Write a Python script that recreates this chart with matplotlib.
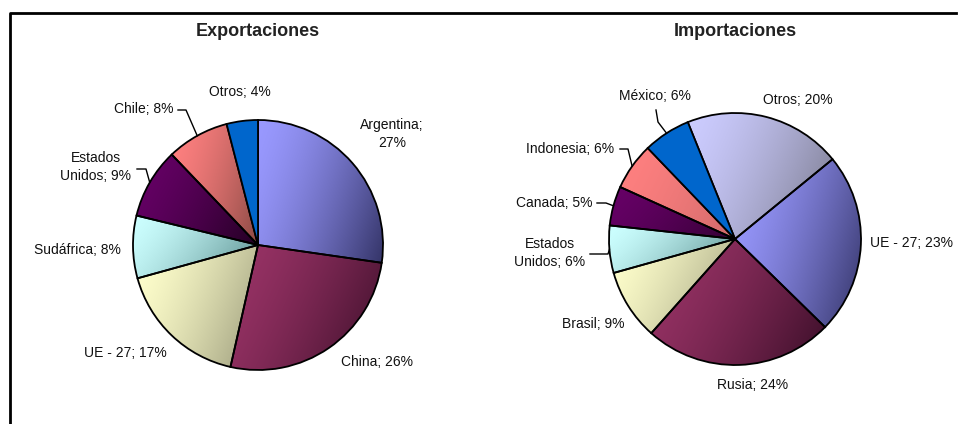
import numpy as np
import matplotlib.pyplot as plt
from matplotlib.colors import to_rgb

plt.rcParams["font.family"] = ["Liberation Sans", "DejaVu Sans"]

# Exportaciones (% del total)
exp_paises = ["Argentina", "China", "UE - 27", "Sudáfrica", "Estados\nUnidos", "Chile", "Otros"]
exp_pct = [27, 26, 17, 8, 9, 8, 4]

# Importaciones (% del total)
imp_paises = ["Otros", "UE - 27", "Rusia", "Brasil", "Estados\nUnidos", "Canada", "Indonesia", "México"]
imp_pct = [20, 23, 24, 9, 6, 5, 6, 6]

# colores degradados (claro, oscuro); None = color liso
exp_colores = [("#9999FF", "#333366"), ("#993366", "#3a0e28"), ("#FFFFCC", "#99997a"),
               ("#CCFFFF", "#558888"), ("#660066", "#220022"), ("#FF8080", "#8a4a44"),
               ("#0066CC", None)]
imp_colores = [("#CCCCFF", "#777788"), ("#9999FF", "#333366"), ("#993366", "#3a0e28"),
               ("#FFFFCC", "#99997a"), ("#CCFFFF", "#558888"), ("#660066", "#330033"),
               ("#FF8080", "#d06a6a"), ("#0066CC", None)]

H = 424

# posicion de etiquetas en pixeles (x, y desde arriba); guia = inicio y codo de la linea
exp_layout = [
    dict(xy=(392, 134), wrap=True),
    dict(xy=(377, 362)),
    dict(xy=(125, 353)),
    dict(xy=(77, 250)),
    dict(xy=(96, 167), guia=[(137, 169), (146, 169)]),
    dict(xy=(144, 109), guia=[(178, 110), (186, 110)]),
    dict(xy=(240, 92)),
]
imp_layout = [
    dict(xy=(798, 100)),
    dict(xy=(912, 243)),
    dict(xy=(753, 385)),
    dict(xy=(593, 324)),
    dict(xy=(550, 253), guia=[(590, 254), (608, 254)]),
    dict(xy=(554, 203), guia=[(597, 203), (606, 203)]),
    dict(xy=(570, 149), guia=[(620, 149), (628, 149)]),
    dict(xy=(655, 96), guia=[(656, 110), (658, 122)]),
]


def torta(ax, valores, paises, colores, layout, centro, radio, inicio, titulo):
    cx, cy = centro[0], H - centro[1]
    wedges, _ = ax.pie(valores, startangle=inicio, counterclock=False,
                       center=(cx, cy), radius=radio,
                       colors=[c[0] for c in colores],
                       wedgeprops=dict(edgecolor="black", linewidth=1.3))

    # degradado diagonal: claro arriba-izquierda, oscuro abajo-derecha
    n = 80
    U, V = np.meshgrid(np.linspace(0, 1, n), np.linspace(0, 1, n))
    t = (np.clip(0.72 * U + 0.28 * V, 0, 1) ** 1.5)[..., None]
    for w, (claro, oscuro) in zip(wedges, colores):
        w.set_zorder(3)
        if oscuro is None:
            continue
        verts = w.get_path().vertices
        x0, y0 = verts.min(0)
        x1, y1 = verts.max(0)
        img = np.array(to_rgb(claro)) * (1 - t) + np.array(to_rgb(oscuro)) * t
        im = ax.imshow(img, extent=(x0, x1, y0, y1), origin="upper",
                       interpolation="bilinear", zorder=2)
        im.set_clip_path(w)
        w.set_facecolor("none")

    for w, pais, v, lay in zip(wedges, paises, valores, layout):
        sep = ";\n" if lay.get("wrap") else "; "
        x, y = lay["xy"]
        ax.text(x, H - y, f"{pais}{sep}{v}%", ha="center", va="center",
                fontsize=10, linespacing=1.35, color="#111111", zorder=5)
        if "guia" in lay:
            ang = np.deg2rad((w.theta1 + w.theta2) / 2)
            ex, ey = cx + radio * np.cos(ang), cy + radio * np.sin(ang)
            px = [p[0] for p in lay["guia"]] + [ex]
            py = [H - p[1] for p in lay["guia"]] + [ey]
            ax.plot(px, py, color="black", lw=1.0, zorder=4)

    ax.text(cx, H - 32, titulo, ha="center", va="center",
            fontsize=13, fontweight="bold", color="#222222")


fig = plt.figure(figsize=(9.59, 4.24), dpi=100)
ax = fig.add_axes([0, 0, 1, 1])

torta(ax, exp_pct, exp_paises, exp_colores, exp_layout, (258, 245), 125, 90, "Exportaciones")
torta(ax, imp_pct, imp_paises, imp_colores, imp_layout, (735, 239), 126, 112, "Importaciones")

# marco
ax.plot([10, 10, 956], [0, H - 13, H - 13], color="black", lw=2.0, zorder=6)

ax.set_xlim(0, 959)
ax.set_ylim(0, H)
ax.set_aspect("equal")
ax.axis("off")

plt.savefig("out.png", dpi=100)
plt.close()
